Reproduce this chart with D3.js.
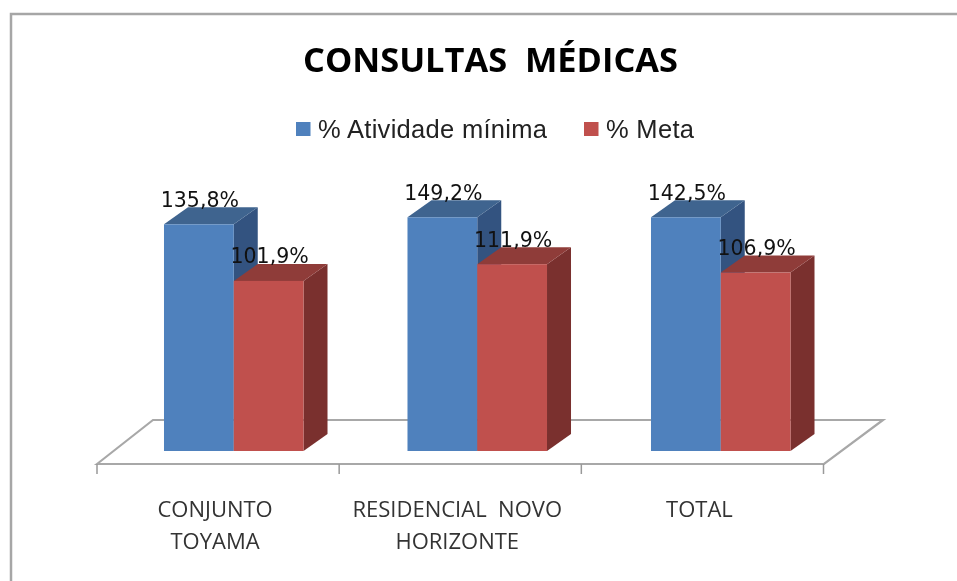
<!DOCTYPE html>
<html>
<head>
<meta charset="utf-8">
<script src="https://d3js.org/d3.v7.min.js"></script>
<style>
	html, body { margin: 0; padding: 0; background: #fff; }
	svg { display: block; filter: blur(0.6px); }
	text { white-space: pre; }
</style>
</head>
<body>
<svg id="chart" width="957" height="581"></svg>
<script>
const categories = ['CONJUNTO TOYAMA', 'RESIDENCIAL NOVO HORIZONTE', 'TOTAL'];
const categoryLines = [['CONJUNTO', 'TOYAMA'], ['RESIDENCIAL  NOVO', 'HORIZONTE'], ['TOTAL']];
const seriesNames = ['% Atividade mínima', '% Meta'];
const atividade = [135.8, 149.2, 142.5];
const meta = [101.9, 111.9, 106.9];
const axisMax = 140; // bars above this get cut off at the top of the plot

const frontColors = ['#4f81bd', '#c0504d'];
const topColors = ['#3f648f', '#8f3c39'];
const sideColors = ['#335380', '#7a302e'];
const depthX = 24;
const depthY = 17;

const svg = d3.select('#chart');
const font = 'Liberation Sans, Arial, sans-serif';

// frame, only top and left show in the picture
svg.append('path')
	.attr('d', 'M11,581V14H957')
	.attr('fill', 'none')
	.attr('stroke', '#a6a6a6')
	.attr('stroke-width', 2.5);

svg.append('text')
	.attr('x', 490.5)
	.attr('y', 72)
	.attr('text-anchor', 'middle')
	.attr('font-family', 'Open Sans')
	.attr('font-weight', 700)
	.attr('font-size', 34)
	.attr('textLength', 375)
	.attr('lengthAdjust', 'spacingAndGlyphs')
	.attr('fill', '#000')
	.text('CONSULTAS  MÉDICAS');

// legend
const legendSquareX = [296, 584];
seriesNames.forEach(function (name, i) {
	svg.append('rect')
		.attr('x', legendSquareX[i])
		.attr('y', 122)
		.attr('width', 14.5)
		.attr('height', 14)
		.attr('fill', frontColors[i]);
	svg.append('text')
		.attr('x', legendSquareX[i] + 22)
		.attr('y', 138)
		.attr('font-family', font)
		.attr('font-size', 25.5)
		.attr('letter-spacing', 0.3)
		.attr('fill', '#222')
		.text(name);
});

// scales
const axisX = d3.scaleBand().domain(categories).range([97, 823.5]);
const p = 0.427;
const groupX = d3.scaleBand().domain(categories).range([112, 842.5])
	.paddingInner(p).paddingOuter(p / 2);
const barX = d3.scaleBand().domain([0, 1]).range([0, groupX.bandwidth()]);
const y = d3.scaleLinear().domain([0, axisMax]).range([451, 217.3]).clamp(true);

// floor of the 3d plot
const floorY = 464;
const floorBackY = 420;
svg.append('path')
	.attr('d', `M97,${floorY}L153,${floorBackY}H883L824,${floorY}Z`)
	.attr('fill', '#fff')
	.attr('stroke', '#a8a8a8')
	.attr('stroke-width', 2.2);

const tickPositions = categories.map(c => axisX(c)).concat([axisX.range()[1]]);
svg.selectAll('.tick-mark')
	.data(tickPositions)
	.enter()
	.append('line')
	.attr('class', 'tick-mark')
	.attr('x1', d => d)
	.attr('x2', d => d)
	.attr('y1', floorY)
	.attr('y2', 474)
	.attr('stroke', '#999')
	.attr('stroke-width', 1.5);

// bars
const rows = [];
categories.forEach(function (c, i) {
	rows.push({ cat: c, s: 0, value: atividade[i] });
	rows.push({ cat: c, s: 1, value: meta[i] });
});

const bars = svg.selectAll('.bar')
	.data(rows)
	.enter()
	.append('g')
	.attr('class', 'bar');

const left = d => groupX(d.cat) + barX(d.s);
const right = d => left(d) + barX.bandwidth();

bars.append('path')
	.attr('d', d => `M${right(d)},${y(d.value)}l${depthX},${-depthY}V${y(0) - depthY}L${right(d)},${y(0)}Z`)
	.attr('fill', d => sideColors[d.s]);
bars.append('path')
	.attr('d', d => `M${left(d)},${y(d.value)}l${depthX},${-depthY}H${right(d) + depthX}L${right(d)},${y(d.value)}Z`)
	.attr('fill', d => topColors[d.s]);
bars.append('rect')
	.attr('x', left)
	.attr('y', d => y(d.value))
	.attr('width', barX.bandwidth())
	.attr('height', d => y(0) - y(d.value))
	.attr('fill', d => frontColors[d.s]);

// value labels go last, they sit over the neighbouring bars
svg.selectAll('.value-label')
	.data(rows)
	.enter()
	.append('text')
	.attr('class', 'value-label')
	.attr('x', d => left(d) + barX.bandwidth() / 2 + 1)
	.attr('y', d => y(d.value) - depthY - 0.5)
	.attr('text-anchor', 'middle')
	.attr('font-family', 'DejaVu Sans')
	.attr('font-size', 20.5)
	.attr('fill', '#111')
	.text(d => d.value.toFixed(1).replace('.', ',') + '%');

// category labels
const catLabels = svg.selectAll('.cat-label')
	.data(categories)
	.enter()
	.append('text')
	.attr('class', 'cat-label')
	.attr('text-anchor', 'middle')
	.attr('font-family', 'Open Sans')
	.attr('font-size', 22)
	.attr('fill', '#333');

catLabels.selectAll('tspan')
	.data((d, i) => categoryLines[i].map(t => ({ t: t, x: axisX(d) + axisX.bandwidth() / 2 - 3 })))
	.enter()
	.append('tspan')
	.attr('x', d => d.x)
	.attr('y', (d, i) => 517 + i * 32)
	.text(d => d.t);
</script>
</body>
</html>
